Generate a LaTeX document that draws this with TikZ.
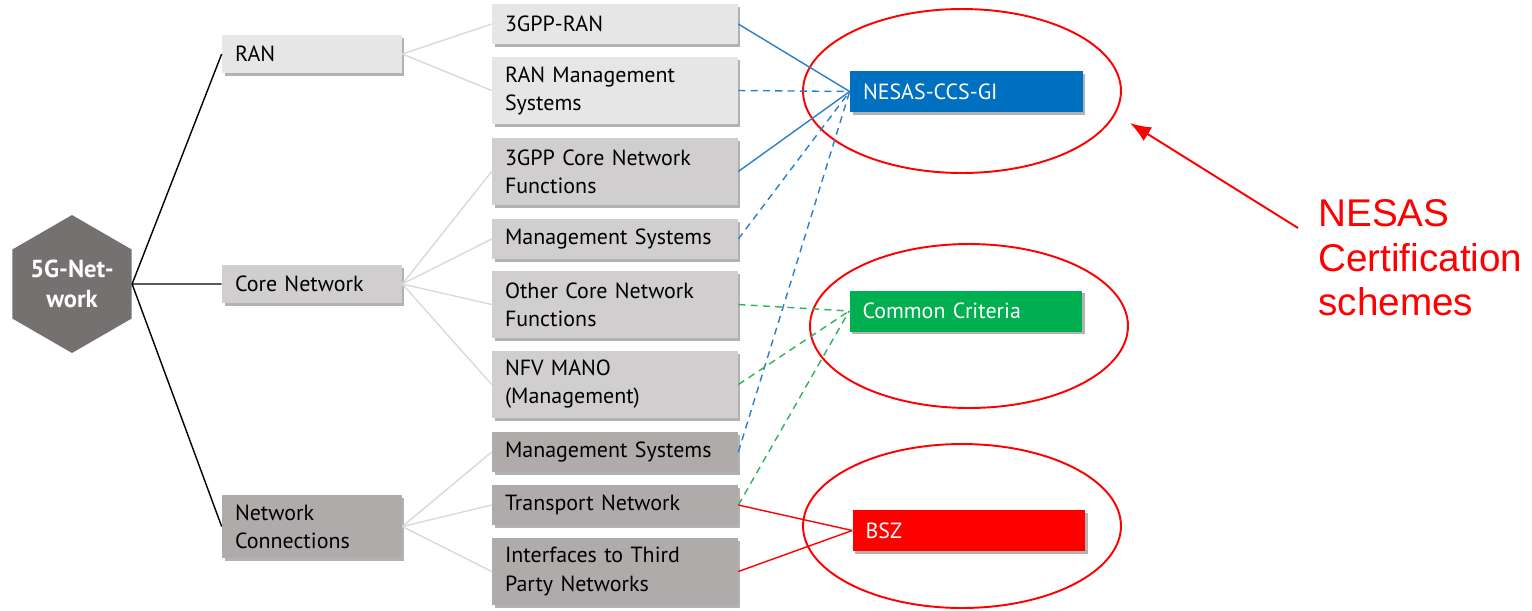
\documentclass[tikz,border=0pt]{standalone}
\usepackage{fontspec}
\setmainfont{PT Sans}
\newfontfamily\annofont{Liberation Sans}
\usetikzlibrary{shapes.geometric,shadows,arrows.meta}
\definecolor{boxlight}{HTML}{E6E6E6}
\definecolor{boxmid}{HTML}{D0CECE}
\definecolor{boxdark}{HTML}{AFABAB}
\definecolor{hexgray}{HTML}{767171}
\definecolor{twiggray}{HTML}{D9D9D9}
\definecolor{nesasblue}{HTML}{0070C0}
\definecolor{nesasline}{HTML}{2A7FCB}
\definecolor{ccgreen}{HTML}{00B050}
\definecolor{ccline}{HTML}{2DB35D}
\tikzset{
	shadowed/.style={drop shadow={shadow xshift=0.05cm,shadow yshift=-0.05cm,fill=black,opacity=0.3}},
	areabox/.style={shadowed,inner xsep=0.26cm,text width=3.08cm,minimum height=0.76cm,align=left},
	itembox/.style={shadowed,inner xsep=0.26cm,text width=4.4cm,minimum height=0.8cm,align=left},
	schemebox/.style={shadowed,inner xsep=0.26cm,text width=4.14cm,minimum height=0.82cm,align=left,text=white},
	ring/.style={ellipse,draw=red,line width=1.1pt,minimum width=6.36cm,minimum height=3.28cm},
	trunk/.style={draw=black,line width=0.8pt},
	twig/.style={draw=twiggray,line width=0.8pt},
	linkdash/.style={dash pattern=on 4pt off 3pt}
}
\begin{document}
\begin{tikzpicture}[x=0.02cm,y=-0.02cm,every node/.style={font=\fontsize{12.5}{16}\selectfont}]
	\useasboundingbox (0,0) rectangle (1532,610);
	\node[regular polygon,regular polygon sides=6,shape border rotate=30,fill=hexgray,minimum size=2.76cm,inner sep=0pt,text=white,align=center,font=\fontsize{14}{17}\selectfont\bfseries] (net) at (72,284) {5G-Net-\\work};
	\node[areabox,fill=boxlight] (ran) at (312,54) {RAN};
	\node[areabox,fill=boxmid] (core) at (312,284) {Core Network};
	\node[areabox,fill=boxdark,minimum height=1.26cm] (conn) at (312,526.5) {Network\\Connections};
	\node[itembox,fill=boxlight] (gppran) at (615,24) {3GPP-RAN};
	\node[itembox,fill=boxlight,minimum height=1.34cm] (ranmgmt) at (615,90.5) {RAN Management\\Systems};
	\node[itembox,fill=boxmid,minimum height=1.34cm] (gppcore) at (615,171.5) {3GPP Core Network\\Functions};
	\node[itembox,fill=boxmid] (coremgmt) at (615,239) {Management Systems};
	\node[itembox,fill=boxmid,minimum height=1.34cm] (othercore) at (615,304.5) {Other Core Network\\Functions};
	\node[itembox,fill=boxmid,minimum height=1.34cm] (mano) at (615,384.5) {NFV MANO\\(Management)};
	\node[itembox,fill=boxdark] (connmgmt) at (615,452) {Management Systems};
	\node[itembox,fill=boxdark] (transport) at (615,505) {Transport Network};
	\node[itembox,fill=boxdark,minimum height=1.34cm] (thirdparty) at (615,571.5) {Interfaces to Third\\Party Networks};
	\node[schemebox,fill=nesasblue] (nesas) at (966.5,91.5) {NESAS-CCS-GI};
	\node[schemebox,fill=ccgreen] (cc) at (966,311) {Common Criteria};
	\node[schemebox,fill=red] (bsz) at (969,530.5) {BSZ};
	\node[ring] (nesasring) at (962,91) {};
	\node[ring] (ccring) at (969,326) {};
	\node[ring] (bszring) at (962,526) {};
	\draw[trunk] (net.east) -- (ran.west);
	\draw[trunk] (net.east) -- (core.west);
	\draw[trunk] (net.east) -- (conn.west);
	\draw[twig] (ran.east) -- (gppran.west);
	\draw[twig] (ran.east) -- (ranmgmt.west);
	\draw[twig] (core.east) -- (gppcore.west);
	\draw[twig] (core.east) -- (coremgmt.west);
	\draw[twig] (core.east) -- (othercore.west);
	\draw[twig] (core.east) -- (mano.west);
	\draw[twig] (conn.east) -- (connmgmt.west);
	\draw[twig] (conn.east) -- (transport.west);
	\draw[twig] (conn.east) -- (thirdparty.west);
	\draw[nesasline,line width=0.8pt] (gppran.east) -- (nesas.west);
	\draw[nesasline,line width=0.8pt,linkdash] (ranmgmt.east) -- (nesas.west);
	\draw[nesasline,line width=0.8pt] (gppcore.east) -- (nesas.west);
	\draw[nesasline,line width=0.8pt,linkdash] (coremgmt.east) -- (nesas.west);
	\draw[nesasline,line width=0.8pt,linkdash] (connmgmt.east) -- (nesas.west);
	\draw[ccline,line width=0.8pt,linkdash] (othercore.east) -- (cc.west);
	\draw[ccline,line width=0.8pt,linkdash] (mano.east) -- (cc.west);
	\draw[ccline,line width=0.8pt,linkdash] (transport.east) -- (cc.west);
	\draw[red,line width=0.8pt] (transport.east) -- (bsz.west);
	\draw[red,line width=0.8pt] (thirdparty.east) -- (bsz.west);
	\node[anchor=north west,inner sep=0pt,text=red,align=left,font=\annofont\fontsize{22}{25.5}\selectfont] (schemes) at (1318,199) {NESAS\\Certification\\schemes};
	\coordinate (arrtail) at (1298,228);
	\coordinate (arrtip) at (1130,123);
	\draw[red,line width=1.1pt,-{Latex[length=0.42cm,width=0.32cm]}] (arrtail) -- (arrtip);
\end{tikzpicture}
\end{document}
